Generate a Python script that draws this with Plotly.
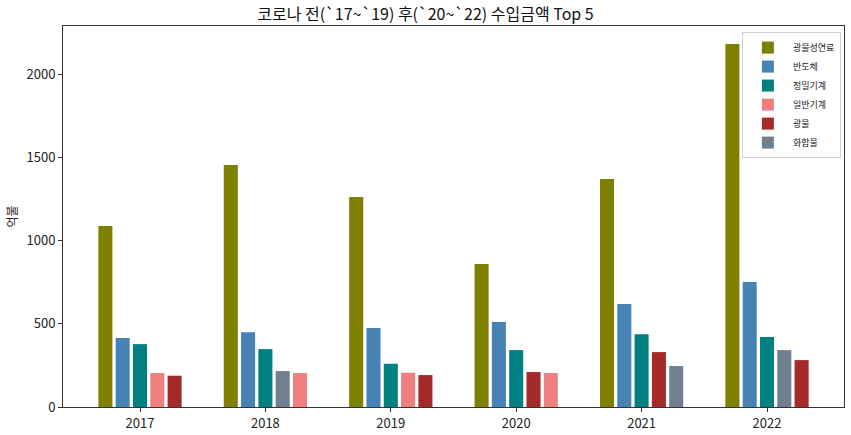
import plotly.graph_objects as go

# 연도별 수입금액 상위 5개 품목 (억불)
years = [2017, 2018, 2019, 2020, 2021, 2022]
top5_items = [
    ["광물성연료", "반도체", "정밀기계", "일반기계", "광물"],
    ["광물성연료", "반도체", "정밀기계", "화합물", "일반기계"],
    ["광물성연료", "반도체", "정밀기계", "일반기계", "광물"],
    ["광물성연료", "반도체", "정밀기계", "광물", "일반기계"],
    ["광물성연료", "반도체", "정밀기계", "광물", "화합물"],
    ["광물성연료", "반도체", "정밀기계", "화합물", "광물"],
]
top5_values = [
    [1088, 414, 378, 204, 188],
    [1455, 450, 348, 216, 204],
    [1262, 475, 260, 206, 192],
    [859, 511, 342, 210, 204],
    [1371, 619, 438, 330, 246],
    [2182, 751, 420, 342, 282],
]
item_order = ["광물성연료", "반도체", "정밀기계", "일반기계", "광물", "화합물"]
item_colors = {
    "광물성연료": "#808000",
    "반도체": "#4682B4",
    "정밀기계": "#008080",
    "일반기계": "#F08080",
    "광물": "#A52A2A",
    "화합물": "#708090",
}

step = 0.138
bar_w = 0.112

fig = go.Figure()
for item in item_order:
    xs, ys = [], []
    for year, items, vals in zip(years, top5_items, top5_values):
        if item in items:
            rank = items.index(item)
            xs.append(year + (rank - 2) * step)
            ys.append(vals[rank])
    fig.add_trace(go.Bar(
        x=xs, y=ys, name=item, width=bar_w,
        marker=dict(color=item_colors[item], line=dict(width=0)),
    ))

fig.update_layout(
    width=851, height=435,
    barmode="overlay",
    plot_bgcolor="white", paper_bgcolor="white",
    font=dict(family="Noto Sans CJK KR", color="#222"),
    title=dict(text="코로나 전(`17~`19) 후(`20~`22) 수입금액 Top 5",
               x=0.5, xanchor="center", y=0.968, yanchor="middle",
               font=dict(size=16, color="#111")),
    margin=dict(l=63, r=7, t=26, b=28),
    legend=dict(x=0.996, xanchor="right", y=0.984, yanchor="top",
                bordercolor="#d0d0d0", borderwidth=1,
                font=dict(size=9), tracegroupgap=0, itemwidth=40),
    showlegend=True,
)
fig.update_xaxes(
    range=[years[0] - 0.614, years[-1] + 0.614],
    tickvals=years, ticktext=[str(y) for y in years],
    showgrid=False, zeroline=False, automargin=False,
    showline=True, linecolor="#333", linewidth=1, mirror=True,
    ticks="outside", ticklen=4, tickcolor="#333",
    tickfont=dict(size=13),
)
fig.update_yaxes(
    range=[0, 2290],
    tickvals=[0, 500, 1000, 1500, 2000],
    showgrid=False, zeroline=False, automargin=False,
    showline=True, linecolor="#333", linewidth=1, mirror=True,
    ticks="outside", ticklen=4, tickcolor="#333",
    tickfont=dict(size=13),
    title=dict(text="억불", font=dict(size=12), standoff=6),
)

fig.write_html("out.html", config={"displayModeBar": False},
               post_script="document.body.style.margin='0';")
